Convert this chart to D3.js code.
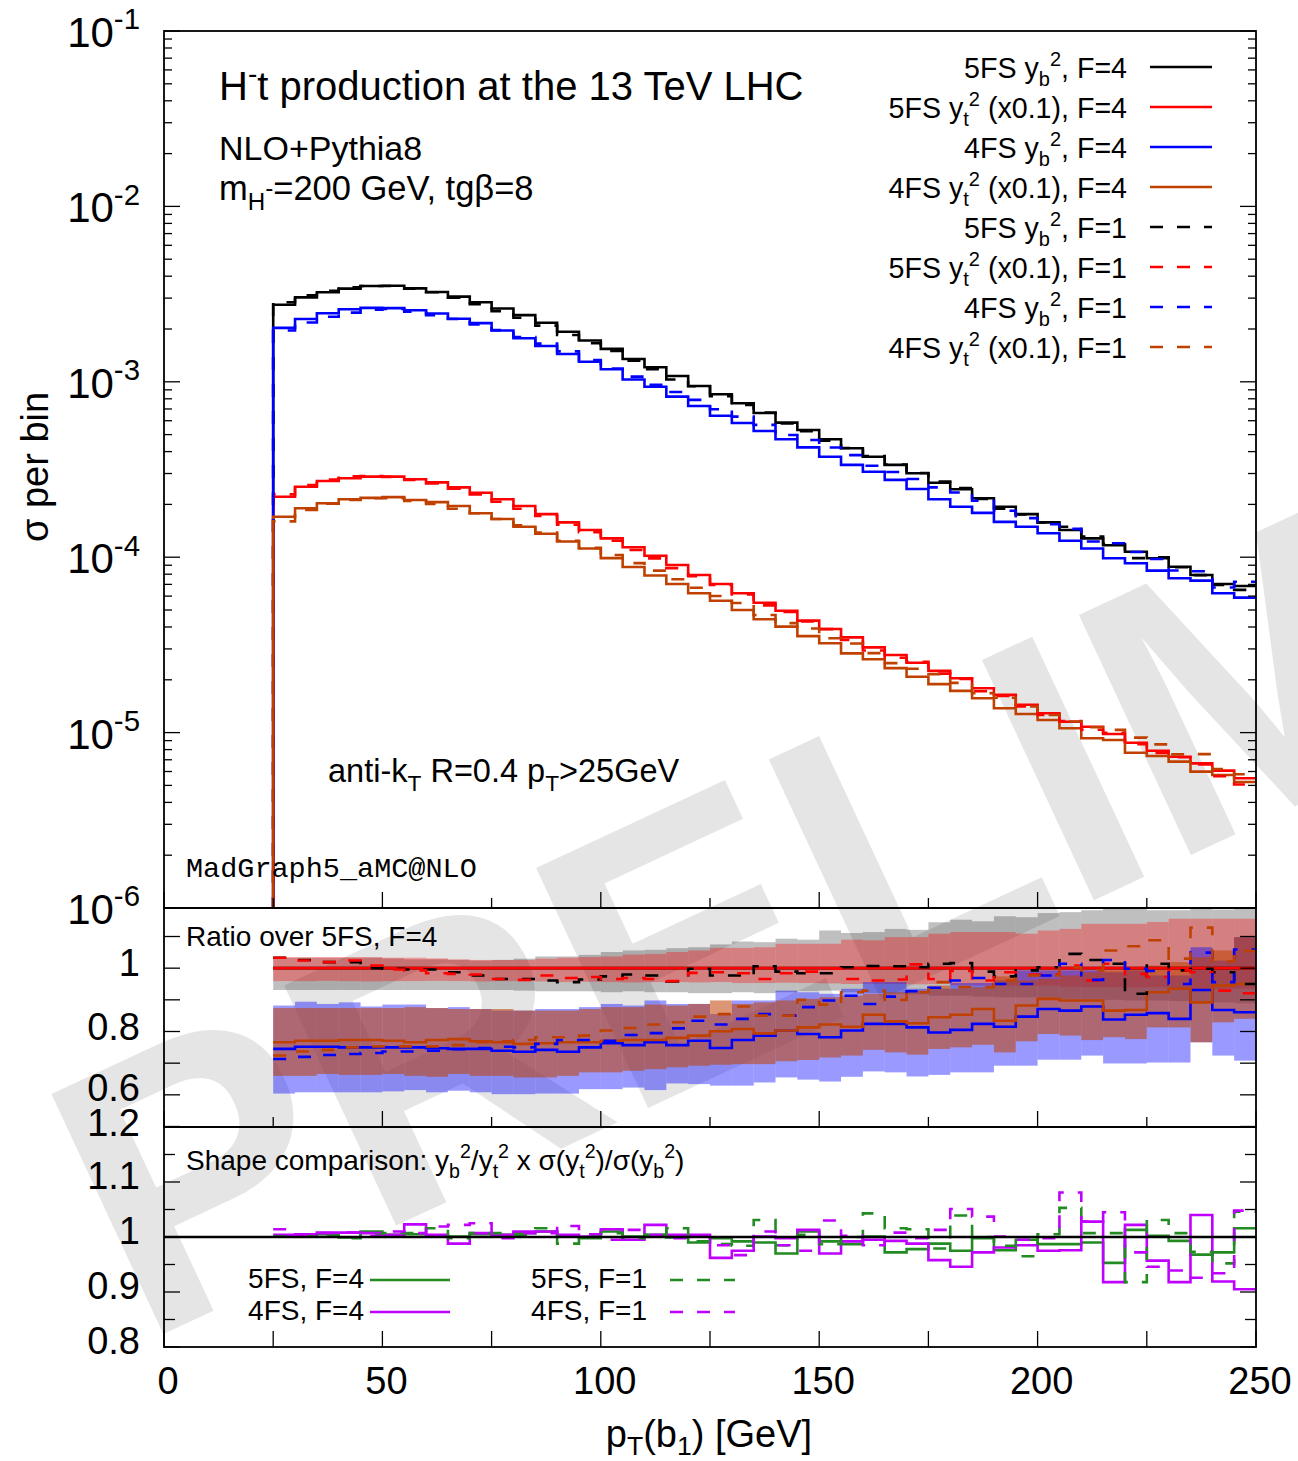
<!DOCTYPE html>
<html><head><meta charset="utf-8">
<script src="https://cdn.jsdelivr.net/npm/d3@7"></script>
<style>
body{margin:0;background:#fff}
svg{display:block}
text{font-family:"Liberation Sans",Arial,Helvetica,sans-serif;white-space:pre;fill:#000}
</style>
</head><body>
<svg id="c" width="1298" height="1461"></svg>
<script>
// ---------------- DATA ----------------
const binEdges = [25,30,35,40,45,50,55,60,65,70,75,80,85,90,95,100,105,110,115,120,125,130,135,140,145,150,155,160,165,170,175,180,185,190,195,200,205,210,215,220,225,230,235,240,245,250];
const xMajorTicks = [0,50,100,150,200,250];
const xMinorTicks = [25,75,125,175,225];
const yMainExp = [-1,-2,-3,-4,-5,-6];
const ratioTicks = [0.5,0.6,0.7,0.8,0.9,1.0,1.1];
const ratioLabels = ["0.6","0.8","1"];
const shapeTicks = [0.8,0.85,0.9,0.95,1.0,1.05,1.1,1.15,1.2];
const shapeLabels = ["0.8","0.9","1","1.1","1.2"];

// main panel: sigma per bin
const s5_yb_F4 = [2.75e-3,3.03e-3,3.24e-3,3.40e-3,3.52e-3,3.53e-3,3.41e-3,3.25e-3,3.06e-3,2.84e-3,2.62e-3,2.40e-3,2.17e-3,1.93e-3,1.72e-3,1.54e-3,1.35e-3,1.21e-3,1.08e-3,9.46e-4,8.49e-4,7.54e-4,6.64e-4,5.85e-4,5.31e-4,4.70e-4,4.18e-4,3.74e-4,3.36e-4,3.01e-4,2.66e-4,2.44e-4,2.17e-4,1.94e-4,1.76e-4,1.58e-4,1.43e-4,1.28e-4,1.17e-4,1.075e-4,9.86e-5,8.83e-5,7.92e-5,7.03e-5,6.85e-5];
const s5_yt_F4 = [2.21e-4,2.52e-4,2.72e-4,2.82e-4,2.88e-4,2.88e-4,2.78e-4,2.67e-4,2.50e-4,2.33e-4,2.14e-4,1.96e-4,1.76e-4,1.58e-4,1.43e-4,1.28e-4,1.14e-4,1.02e-4,9.03e-5,7.91e-5,7.03e-5,6.23e-5,5.50e-5,4.95e-5,4.35e-5,3.90e-5,3.49e-5,3.06e-5,2.77e-5,2.50e-5,2.25e-5,2.04e-5,1.79e-5,1.64e-5,1.44e-5,1.29e-5,1.154e-5,1.080e-5,9.82e-6,8.76e-6,7.88e-6,7.29e-6,6.68e-6,6.07e-6,5.49e-6];
const s4_yb_F4 = [2.03e-3,2.28e-3,2.46e-3,2.59e-3,2.64e-3,2.63e-3,2.56e-3,2.45e-3,2.29e-3,2.16e-3,1.96e-3,1.77e-3,1.60e-3,1.44e-3,1.30e-3,1.18e-3,1.03e-3,9.38e-4,8.23e-4,7.28e-4,6.41e-4,5.82e-4,5.24e-4,4.70e-4,4.23e-4,3.74e-4,3.36e-4,3.07e-4,2.76e-4,2.45e-4,2.14e-4,1.94e-4,1.79e-4,1.59e-4,1.49e-4,1.37e-4,1.24e-4,1.12e-4,9.86e-5,9.23e-5,8.38e-5,7.58e-5,7.35e-5,6.23e-5,5.88e-5];
const s4_yt_F4 = [1.70e-4,1.90e-4,2.03e-4,2.14e-4,2.18e-4,2.20e-4,2.12e-4,2.06e-4,1.96e-4,1.78e-4,1.65e-4,1.49e-4,1.36e-4,1.23e-4,1.12e-4,9.88e-5,8.80e-5,7.86e-5,7.04e-5,6.23e-5,5.65e-5,5.00e-5,4.43e-5,4.02e-5,3.55e-5,3.23e-5,2.83e-5,2.62e-5,2.33e-5,2.08e-5,1.89e-5,1.73e-5,1.57e-5,1.376e-5,1.276e-5,1.180e-5,1.058e-5,9.28e-6,9.07e-6,7.68e-6,7.35e-6,6.83e-6,5.99e-6,5.73e-6,5.23e-6];
const s5_yb_F1 = [2.84e-3,3.11e-3,3.30e-3,3.46e-3,3.52e-3,3.52e-3,3.40e-3,3.24e-3,3.02e-3,2.77e-3,2.53e-3,2.32e-3,2.09e-3,1.85e-3,1.66e-3,1.50e-3,1.32e-3,1.18e-3,1.03e-3,9.44e-4,8.29e-4,7.37e-4,6.68e-4,5.79e-4,5.23e-4,4.62e-4,4.19e-4,3.77e-4,3.38e-4,3.02e-4,2.70e-4,2.48e-4,2.15e-4,1.89e-4,1.75e-4,1.58e-4,1.49e-4,1.31e-4,1.19e-4,9.88e-5,1.00e-4,8.77e-5,7.90e-5,6.94e-5,6.51e-5];
const s5_yt_F1 = [2.28e-4,2.58e-4,2.77e-4,2.89e-4,2.90e-4,2.87e-4,2.76e-4,2.63e-4,2.46e-4,2.28e-4,2.07e-4,1.89e-4,1.72e-4,1.53e-4,1.39e-4,1.24e-4,1.10e-4,9.85e-5,8.66e-5,7.79e-5,6.94e-5,6.13e-5,5.31e-5,4.87e-5,4.30e-5,3.89e-5,3.37e-5,2.94e-5,2.67e-5,2.53e-5,2.17e-5,2.02e-5,1.72e-5,1.62e-5,1.41e-5,1.26e-5,1.163e-5,1.038e-5,9.96e-6,8.60e-6,7.66e-6,7.24e-6,6.59e-6,5.64e-6,5.06e-6];
const s4_yb_F1 = [1.96e-3,2.18e-3,2.35e-3,2.48e-3,2.58e-3,2.60e-3,2.51e-3,2.40e-3,2.28e-3,2.12e-3,1.97e-3,1.80e-3,1.65e-3,1.49e-3,1.33e-3,1.19e-3,1.07e-3,9.62e-4,8.75e-4,7.89e-4,6.98e-4,6.33e-4,5.68e-4,4.97e-4,4.66e-4,4.22e-4,3.82e-4,3.32e-4,3.06e-4,2.79e-4,2.50e-4,2.34e-4,2.10e-4,1.84e-4,1.67e-4,1.54e-4,1.45e-4,1.23e-4,1.20e-4,1.07e-4,9.77e-5,8.39e-5,8.31e-5,6.72e-5,7.25e-5];
const s4_yt_F1 = [1.60e-4,1.86e-4,2.02e-4,2.12e-4,2.17e-4,2.17e-4,2.09e-4,2.01e-4,1.89e-4,1.78e-4,1.65e-4,1.52e-4,1.38e-4,1.24e-4,1.13e-4,1.03e-4,9.25e-5,8.38e-5,7.49e-5,6.70e-5,6.01e-5,5.48e-5,4.68e-5,4.21e-5,3.92e-5,3.45e-5,3.22e-5,2.84e-5,2.49e-5,2.31e-5,2.15e-5,1.92e-5,1.68e-5,1.58e-5,1.41e-5,1.26e-5,1.157e-5,1.072e-5,1.037e-5,9.36e-6,8.57e-6,7.51e-6,7.54e-6,6.20e-6,5.79e-6];

// ratio panel: ratio over 5FS F=4 (same coupling)
const r5_yb_F1 = [1.033,1.026,1.019,1.019,1.0,0.998,0.996,0.996,0.987,0.977,0.966,0.966,0.961,0.956,0.964,0.974,0.980,0.977,0.958,0.998,0.977,0.977,1.006,0.989,0.984,0.984,1.003,1.007,1.006,1.003,1.014,1.016,0.989,0.974,0.993,1.003,1.045,1.026,1.014,0.919,1.014,0.993,0.998,0.987,0.950];
const r5_yt_F1 = [1.033,1.024,1.019,1.024,1.008,0.996,0.993,0.984,0.982,0.980,0.966,0.963,0.977,0.969,0.972,0.966,0.969,0.966,0.959,0.985,0.987,0.984,0.966,0.984,0.989,0.998,0.966,0.961,0.964,1.012,0.966,0.991,0.961,0.987,0.980,0.980,1.008,0.961,1.014,0.982,0.972,0.993,0.987,0.929,0.921];
const r4_yb_F4 = [0.745,0.752,0.752,0.750,0.750,0.750,0.750,0.747,0.745,0.745,0.739,0.736,0.742,0.736,0.750,0.763,0.757,0.766,0.757,0.771,0.748,0.773,0.787,0.803,0.792,0.782,0.803,0.824,0.824,0.813,0.797,0.805,0.824,0.815,0.847,0.871,0.866,0.879,0.838,0.853,0.858,0.840,0.931,0.868,0.861];
const r4_yt_F4 = [0.766,0.771,0.771,0.773,0.773,0.771,0.766,0.773,0.776,0.769,0.766,0.761,0.763,0.766,0.766,0.771,0.773,0.773,0.780,0.787,0.801,0.808,0.794,0.803,0.813,0.822,0.815,0.853,0.832,0.826,0.845,0.853,0.871,0.834,0.882,0.903,0.898,0.898,0.866,0.868,0.924,0.935,0.892,0.945,0.950];
const r4_yb_F1 = [0.713,0.720,0.726,0.729,0.732,0.737,0.737,0.739,0.744,0.748,0.752,0.750,0.761,0.773,0.773,0.771,0.789,0.795,0.810,0.834,0.822,0.840,0.855,0.850,0.877,0.898,0.913,0.887,0.910,0.927,0.938,0.961,0.969,0.950,0.950,0.977,1.014,0.963,1.026,0.998,0.991,0.950,1.049,0.956,1.059];
const r4_yt_F1 = [0.724,0.737,0.742,0.750,0.753,0.753,0.753,0.753,0.757,0.766,0.769,0.773,0.782,0.782,0.787,0.803,0.811,0.822,0.829,0.847,0.855,0.879,0.850,0.850,0.900,0.885,0.924,0.929,0.900,0.924,0.956,0.940,0.940,0.961,0.977,0.977,1.003,0.993,1.056,1.069,1.088,1.030,1.128,1.022,1.054];

// scale-uncertainty bands (ratio units)
const band5yb_hi = [1.033,1.033,1.033,1.033,1.033,1.031,1.028,1.028,1.026,1.024,1.026,1.030,1.037,1.037,1.042,1.051,1.056,1.058,1.063,1.066,1.075,1.084,1.082,1.093,1.090,1.119,1.111,1.114,1.124,1.121,1.145,1.153,1.148,1.164,1.161,1.174,1.177,1.183,1.188,1.188,1.183,1.183,1.188,1.185,1.188];
const band5yb_lo = [0.931,0.931,0.931,0.931,0.931,0.931,0.931,0.931,0.931,0.931,0.931,0.929,0.927,0.927,0.927,0.924,0.927,0.924,0.924,0.921,0.921,0.924,0.921,0.924,0.927,0.929,0.924,0.921,0.919,0.917,0.913,0.913,0.910,0.908,0.908,0.906,0.903,0.903,0.900,0.898,0.898,0.896,0.892,0.892,0.889];
const band5yt_hi = [1.035,1.035,1.035,1.035,1.035,1.033,1.033,1.031,1.028,1.026,1.026,1.026,1.030,1.033,1.035,1.037,1.043,1.045,1.051,1.056,1.064,1.064,1.066,1.077,1.077,1.077,1.090,1.088,1.098,1.098,1.109,1.114,1.114,1.114,1.109,1.119,1.124,1.140,1.140,1.140,1.146,1.156,1.156,1.156,1.156];
const band5yt_lo = [0.959,0.959,0.960,0.959,0.958,0.959,0.959,0.960,0.959,0.958,0.959,0.959,0.958,0.956,0.957,0.956,0.955,0.956,0.956,0.955,0.956,0.953,0.953,0.954,0.953,0.952,0.950,0.951,0.950,0.949,0.950,0.946,0.945,0.945,0.944,0.945,0.941,0.940,0.940,0.939,0.940,0.936,0.935,0.934,0.935];
const band4yb_hi = [0.882,0.894,0.887,0.892,0.879,0.885,0.885,0.874,0.877,0.871,0.866,0.866,0.871,0.871,0.877,0.887,0.882,0.898,0.887,0.887,0.855,0.898,0.898,0.929,0.924,0.919,0.935,0.956,0.956,0.935,0.935,0.953,0.953,0.961,0.993,0.993,0.993,0.993,0.987,0.993,0.977,0.977,1.066,1.024,1.098];
const band4yb_lo = [0.604,0.608,0.608,0.608,0.608,0.611,0.615,0.608,0.613,0.608,0.602,0.602,0.604,0.604,0.618,0.618,0.623,0.615,0.636,0.634,0.629,0.629,0.639,0.655,0.648,0.642,0.657,0.674,0.671,0.658,0.663,0.671,0.671,0.692,0.692,0.711,0.711,0.724,0.699,0.699,0.702,0.702,0.766,0.724,0.708];
const band4yt_hi = [0.874,0.874,0.874,0.874,0.874,0.874,0.877,0.874,0.871,0.871,0.871,0.866,0.866,0.866,0.871,0.877,0.877,0.885,0.882,0.887,0.898,0.887,0.892,0.898,0.903,0.908,0.913,0.919,0.924,0.929,0.945,0.935,0.940,0.974,0.961,0.966,0.977,0.987,0.993,1.003,1.008,1.019,1.035,1.056,1.098];
const band4yt_lo = [0.660,0.660,0.666,0.663,0.663,0.666,0.660,0.657,0.666,0.660,0.660,0.655,0.655,0.660,0.671,0.671,0.676,0.681,0.687,0.692,0.695,0.697,0.697,0.706,0.710,0.718,0.724,0.742,0.734,0.727,0.745,0.750,0.758,0.734,0.769,0.792,0.787,0.773,0.782,0.776,0.813,0.813,0.766,0.829,0.840];

// shape comparison panel
const sh5_F4 = [1.001,1.004,1.005,0.999,1.010,1.004,1.005,1.002,1.001,1.005,1.004,1.007,1.010,1.001,0.998,1.010,1.001,1.004,0.999,0.990,0.998,0.992,0.990,0.970,1.010,0.992,0.987,1.001,0.972,0.978,0.988,0.975,0.998,0.976,0.995,0.987,0.987,0.990,0.953,1.013,1.002,0.993,0.968,0.972,1.016];
const sh4_F4 = [1.004,1.005,1.008,1.008,1.007,1.004,1.023,1.004,0.988,1.007,1.004,1.010,1.010,1.004,1.001,1.014,0.995,1.022,1.004,1.004,0.962,0.975,1.001,0.998,1.013,0.970,0.992,0.995,0.993,0.988,0.958,0.946,0.972,0.981,0.985,0.975,0.976,1.028,0.918,1.022,0.957,0.918,1.040,0.919,0.905];
const sh5_F1 = [1.001,1.001,1.002,0.998,1.004,1.007,1.007,1.016,0.998,1.007,1.007,1.004,1.016,0.988,1.004,1.007,0.998,1.004,1.016,0.992,0.987,0.984,1.031,0.985,1.004,0.987,1.000,1.043,1.016,1.014,0.979,1.039,1.000,0.984,0.965,1.005,1.053,1.007,1.007,0.918,1.031,1.007,0.973,0.952,1.046];
const sh4_F1 = [1.014,1.004,1.007,1.008,1.002,1.010,1.007,1.019,1.022,1.025,0.998,1.007,1.007,1.020,1.005,0.995,1.013,1.004,0.998,1.001,0.985,0.967,1.010,0.985,0.975,1.030,1.002,0.985,1.008,0.998,1.013,1.051,1.037,1.001,0.995,0.998,1.081,1.028,1.045,0.972,0.946,0.939,0.926,0.934,1.048];

// ---------------- STYLE ----------------
const C = {black:"#000000", red:"#ff0000", blue:"#0000ff", orange:"#c04000", green:"#228b22", purple:"#c000ff"};
const DASH = "13,14";
const LW = 2.6;

// ---------------- LAYOUT ----------------
const svg = d3.select("#c");
const L = 164, R = 1256, T = 31, B1 = 908, B2 = 1127, B3 = 1347;
const x = d3.scaleLinear().domain([0,250]).range([L,R]);
const yM = d3.scaleLog().domain([1e-6,1e-1]).range([B1,T]);
const yR = d3.scaleLinear().domain([0.5,1.19]).range([1126.5,B1]);
const yS = d3.scaleLinear().domain([0.8,1.2]).range([B3,B2]);

// watermark
svg.append("text")
  .attr("transform","translate(140,1345) rotate(-25)")
  .attr("font-size",385).attr("font-weight","bold")
  .style("fill","#e5e5e5")
  .text("PRELIMINARY");

const defs = svg.append("defs");
function clip(id,y0,y1){ defs.append("clipPath").attr("id",id).append("rect").attr("x",L).attr("y",y0).attr("width",R-L).attr("height",y1-y0); }
clip("cm",T,B1); clip("cr",B1,B2); clip("cs",B2,B3);

function stepPts(vals, ys, bottomY){
  const pts = [];
  if (bottomY !== undefined) pts.push([x(binEdges[0]), bottomY]);
  vals.forEach((v,i)=>{ pts.push([x(binEdges[i]), ys(v)]); pts.push([x(binEdges[i+1]), ys(v)]); });
  return pts;
}
const line = d3.line();
function hist(g, vals, ys, color, dashed, bottomY){
  g.append("path").attr("d", line(stepPts(vals, ys, bottomY)))
    .attr("fill","none").attr("stroke",color).attr("stroke-width",LW)
    .attr("stroke-linejoin","miter")
    .attr("stroke-dasharray", dashed ? DASH : null);
}

function rich(g, px, py, parts, size, anchor, subOff){
  const t = g.append("text").attr("x",px).attr("y",py).attr("font-size",size)
    .attr("text-anchor", anchor || "start");
  let cur = 0;
  const so = subOff === undefined ? 0.28 : subOff;
  parts.forEach(p=>{
    const [s,m] = Array.isArray(p) ? p : [p,""];
    let off = 0, fs = size;
    if (m==="sub"){ off = size*so; fs = size*0.7; }
    if (m==="sup"){ off = -size*0.42; fs = size*0.7; }
    if (m==="subsup"){ off = -size*0.12; fs = size*0.7; }
    t.append("tspan").attr("dy", off-cur).attr("font-size", fs).text(s);
    cur = off;
  });
  return t;
}

// ---------------- MAIN PANEL ----------------
const gm = svg.append("g").attr("clip-path","url(#cm)");
const mainSeries = [
  [s5_yb_F4, C.black, false],[s5_yt_F4, C.red, false],[s4_yb_F4, C.blue, false],[s4_yt_F4, C.orange, false],
  [s5_yb_F1, C.black, true],[s5_yt_F1, C.red, true],[s4_yb_F1, C.blue, true],[s4_yt_F1, C.orange, true]
];
mainSeries.forEach(([v,c,d])=>hist(gm, v, yM, c, d, B1+2));

// ---------------- RATIO PANEL ----------------
const gr = svg.append("g").attr("clip-path","url(#cr)");
const bands = [
  [band5yb_hi, band5yb_lo, "rgba(0,0,0,0.25)"],
  [band5yt_hi, band5yt_lo, "rgba(255,0,0,0.33)"],
  [band4yb_hi, band4yb_lo, "rgba(0,0,255,0.40)"],
  [band4yt_hi, band4yt_lo, "rgba(192,64,0,0.55)"]
];
bands.forEach(([hi,lo,col])=>{
  gr.append("g").selectAll("rect").data(hi).join("rect")
    .attr("x",(d,i)=>x(binEdges[i])).attr("width",(d,i)=>x(binEdges[i+1])-x(binEdges[i]))
    .attr("y",d=>yR(d)).attr("height",(d,i)=>yR(lo[i])-yR(d))
    .attr("fill",col);
});
[C.black, C.red].forEach(c=>{
  gr.append("line").attr("x1",x(binEdges[0])).attr("x2",x(binEdges[binEdges.length-1]))
    .attr("y1",yR(1)).attr("y2",yR(1)).attr("stroke",c).attr("stroke-width",LW);
});
[[r4_yb_F4,C.blue,false],[r4_yt_F4,C.orange,false],
 [r5_yb_F1,C.black,true],[r5_yt_F1,C.red,true],[r4_yb_F1,C.blue,true],[r4_yt_F1,C.orange,true]]
 .forEach(([v,c,d])=>hist(gr, v, yR, c, d));

// ---------------- SHAPE PANEL ----------------
const gs = svg.append("g").attr("clip-path","url(#cs)");
[[sh5_F4,C.green,false],[sh4_F4,C.purple,false],[sh5_F1,C.green,true],[sh4_F1,C.purple,true]]
 .forEach(([v,c,d])=>hist(gs, v, yS, c, d));
gs.append("line").attr("x1",L).attr("x2",R).attr("y1",yS(1)).attr("y2",yS(1)).attr("stroke","#000").attr("stroke-width",2.4);

// ---------------- AXES / TICKS ----------------
const ga = svg.append("g").attr("stroke","#000").attr("stroke-width",1.3);
function hTick(y,len){ ga.append("line").attr("x1",L).attr("x2",L+len).attr("y1",y).attr("y2",y);
                       ga.append("line").attr("x1",R).attr("x2",R-len).attr("y1",y).attr("y2",y); }
function vTick(xx,yb,len){ ga.append("line").attr("x1",xx).attr("x2",xx).attr("y1",yb).attr("y2",yb-len); }
yMainExp.forEach(e=>{
  hTick(yM(Math.pow(10,e)),16);
  if (e>-6) for (let k=2;k<=9;k++) hTick(yM(k*Math.pow(10,e-1)),8);
});
ratioTicks.forEach(v=>hTick(yR(v),16));
shapeTicks.forEach((v,i)=>hTick(yS(v), i%2===0 ? 16 : 11));
[B1,B2,B3].forEach(yb=>{
  xMajorTicks.forEach(v=>vTick(x(v),yb,16));
  xMinorTicks.forEach(v=>vTick(x(v),yb,yb===B3?16:10));
});
[[T,B1],[B1,B2],[B2,B3]].forEach(([a,b])=>{
  svg.append("rect").attr("x",L).attr("y",a).attr("width",R-L).attr("height",b-a)
    .attr("fill","none").attr("stroke","#000").attr("stroke-width",1.8);
});

// ---------------- LABELS ----------------
const gt = svg.append("g");
yMainExp.forEach(e=>{
  const y = yM(Math.pow(10,e));
  rich(gt, 140, y+16, ["10", ["-"+(-e),"sup"]], 42, "end");
});
ratioLabels.forEach(s=>{
  gt.append("text").attr("x",140).attr("y",yR(+s)+(s==="0.6"?6:8)).attr("font-size",38).attr("text-anchor","end").text(s);
});
shapeLabels.forEach(s=>{
  gt.append("text").attr("x",140).attr("y",yS(+s)+(s==="1.2"?9:7)).attr("font-size",38).attr("text-anchor","end").text(s);
});
xMajorTicks.forEach(v=>{
  gt.append("text").attr("x",x(v)+4).attr("y",1394).attr("font-size",38).attr("text-anchor","middle").text(String(v));
});
rich(gt, 709, 1447, ["p",["T","sub"],"(b",["1","sub"],") [GeV]"], 38, "middle", 0.2);
gt.append("text").attr("transform","translate(48,467) rotate(-90)").attr("font-size",38)
  .attr("text-anchor","middle").text("\u03c3 per bin");

rich(gt, 219, 100, ["H",["-","sup"],"t production at the 13 TeV LHC"], 40);
rich(gt, 219, 160, ["NLO+Pythia8"], 34);
rich(gt, 219, 200, ["m",["H","sub"],["-","subsup"],"=200 GeV, tg\u03b2=8"], 34.5);
rich(gt, 328, 782, ["anti-k",["T","sub"]," R=0.4 p",["T","sub"],">25GeV"], 32.5);
gt.append("text").attr("x",186).attr("y",877).attr("font-size",28.5)
  .style("font-family","'Liberation Mono','DejaVu Sans Mono',monospace").text("MadGraph5_aMC@NLO");

const legendItems = [
  [["5FS y",["b","sub"],["2","sup"],", F=4"], C.black, false],
  [["5FS y",["t","sub"],["2","sup"]," (x0.1), F=4"], C.red, false],
  [["4FS y",["b","sub"],["2","sup"],", F=4"], C.blue, false],
  [["4FS y",["t","sub"],["2","sup"]," (x0.1), F=4"], C.orange, false],
  [["5FS y",["b","sub"],["2","sup"],", F=1"], C.black, true],
  [["5FS y",["t","sub"],["2","sup"]," (x0.1), F=1"], C.red, true],
  [["4FS y",["b","sub"],["2","sup"],", F=1"], C.blue, true],
  [["4FS y",["t","sub"],["2","sup"]," (x0.1), F=1"], C.orange, true]
];
legendItems.forEach(([parts,c,d],i)=>{
  const yy = 67 + 40*i;
  rich(gt, 1127, yy+11, parts, 28.6, "end");
  gt.append("line").attr("x1",1150).attr("x2",1212).attr("y1",yy).attr("y2",yy)
    .attr("stroke",c).attr("stroke-width",LW).attr("stroke-dasharray", d?DASH:null);
});

rich(gt, 186, 946, ["Ratio over 5FS, F=4"], 28);
rich(gt, 186, 1170, ["Shape comparison: y",["b","sub"],["2","sup"],"/y",["t","sub"],["2","sup"],
  " x \u03c3(y",["t","sub"],["2","sup"],")/\u03c3(y",["b","sub"],["2","sup"],")"], 28);

[[["5FS, F=4"],364,1288,1280,370,450,C.green,false],
 [["4FS, F=4"],364,1320,1312,370,450,C.purple,false],
 [["5FS, F=1"],647,1288,1280,670,735,C.green,true],
 [["4FS, F=1"],647,1320,1312,670,735,C.purple,true]].forEach(([p,tx,ty,ly,x1,x2,c,d])=>{
  rich(gt, tx, ty, p, 28, "end");
  gt.append("line").attr("x1",x1).attr("x2",x2).attr("y1",ly).attr("y2",ly)
    .attr("stroke",c).attr("stroke-width",LW).attr("stroke-dasharray", d?DASH:null);
});
</script>
</body></html>
